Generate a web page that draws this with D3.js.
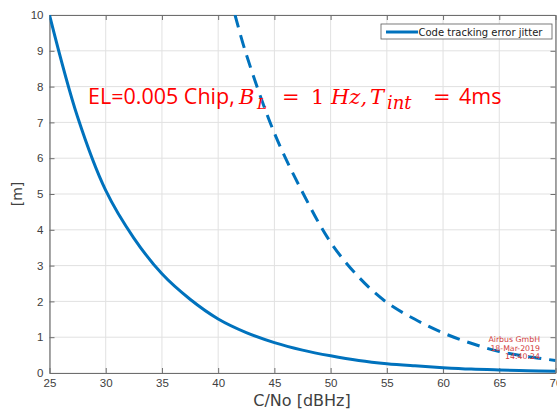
<!DOCTYPE html>
<html>
<head>
<meta charset="utf-8">
<script src="https://cdn.jsdelivr.net/npm/d3@7"></script>
<style>
  body { margin: 0; background: #fff; }
  svg { display: block; font-family: "DejaVu Sans", sans-serif; }
</style>
</head>
<body>
<div id="chart"></div>
<script>
// C/No values (dBHz) and jitter in metres
let cnoSolid = [25, 27.5, 30, 32.5, 35, 37.5, 40, 42.5, 45, 47.5, 50, 52.5, 55, 57.5, 60, 62.5, 65, 67.5, 70];
let jitterSolid = [10, 7.15, 5.1, 3.77, 2.77, 2.06, 1.51, 1.13, 0.85, 0.64, 0.48, 0.35, 0.26, 0.2, 0.15, 0.11, 0.085, 0.065, 0.05];

let cnoDashed = [41.5, 42.5, 45, 47.5, 50, 52.5, 55, 57.5, 60, 62.5, 65, 67.5, 70];
let jitterDashed = [10, 8.9, 6.7, 5.05, 3.65, 2.68, 1.97, 1.5, 1.12, 0.83, 0.6, 0.46, 0.35];

let xTicks = [25, 30, 35, 40, 45, 50, 55, 60, 65, 70];
let yTicks = [0, 1, 2, 3, 4, 5, 6, 7, 8, 9, 10];

let svgWidth = 557;
let svgHeight = 409;

let margin = { top: 15, right: 1.5, bottom: 36, left: 49.5 };
let width = svgWidth - margin.left - margin.right;
let height = svgHeight - margin.top - margin.bottom;

let lineColor = "#0072BD";
let axisColor = "#6e6e6e";
let textColor = "#404040";

let svg = d3.select("#chart")
    .append("svg")
    .attr("width", svgWidth)
    .attr("height", svgHeight);

let chartGroup = svg.append("g")
    .attr("transform", `translate(${margin.left}, ${margin.top})`);

let xScale = d3.scaleLinear().domain([25, 70]).range([0, width]);
let yScale = d3.scaleLinear().domain([0, 10]).range([height, 0]);

// grid
chartGroup.append("g")
    .selectAll("line.vgrid")
    .data(xTicks)
    .enter()
    .append("line")
    .attr("x1", d => xScale(d))
    .attr("x2", d => xScale(d))
    .attr("y1", 0)
    .attr("y2", height)
    .attr("stroke", "#e1e1e1")
    .attr("stroke-width", 1);

chartGroup.append("g")
    .selectAll("line.hgrid")
    .data(yTicks)
    .enter()
    .append("line")
    .attr("x1", 0)
    .attr("x2", width)
    .attr("y1", d => yScale(d))
    .attr("y2", d => yScale(d))
    .attr("stroke", "#e1e1e1")
    .attr("stroke-width", 1);

// axes (box style, ticks inward)
function styleAxis(g) {
    g.select(".domain").attr("stroke", axisColor).attr("stroke-width", 1.2);
    g.selectAll(".tick line").attr("stroke", axisColor);
    g.selectAll(".tick text")
        .attr("fill", textColor)
        .attr("font-size", "11.5px");
}

let bottomAxis = d3.axisBottom(xScale).tickValues(xTicks).tickSize(-5).tickSizeOuter(0).tickPadding(6);
let leftAxis = d3.axisLeft(yScale).tickValues(yTicks).tickSize(-5).tickSizeOuter(0).tickPadding(6);
let topAxis = d3.axisTop(xScale).tickValues(xTicks).tickSize(-5).tickSizeOuter(0).tickFormat("");
let rightAxis = d3.axisRight(yScale).tickValues(yTicks).tickSize(-5).tickSizeOuter(0).tickFormat("");

chartGroup.append("g").call(topAxis).call(styleAxis);
chartGroup.append("g").attr("transform", `translate(${width}, 0)`).call(rightAxis).call(styleAxis);
chartGroup.append("g").attr("transform", `translate(0, ${height})`).call(bottomAxis).call(styleAxis);
chartGroup.append("g").call(leftAxis).call(styleAxis);

// curves
chartGroup.append("clipPath")
    .attr("id", "plotClip")
    .append("rect")
    .attr("width", width)
    .attr("height", height);

let line = d3.line()
    .x(d => xScale(d[0]))
    .y(d => yScale(d[1]))
    .curve(d3.curveCatmullRom.alpha(0.5));

chartGroup.append("path")
    .datum(d3.zip(cnoSolid, jitterSolid))
    .attr("clip-path", "url(#plotClip)")
    .attr("d", line)
    .attr("fill", "none")
    .attr("stroke", lineColor)
    .attr("stroke-width", 3);

chartGroup.append("path")
    .datum(d3.zip(cnoDashed, jitterDashed))
    .attr("clip-path", "url(#plotClip)")
    .attr("d", line)
    .attr("fill", "none")
    .attr("stroke", lineColor)
    .attr("stroke-width", 3)
    .attr("stroke-dasharray", "13,8");

// axis labels
svg.append("text")
    .attr("x", 302)
    .attr("y", 406)
    .attr("text-anchor", "middle")
    .attr("fill", textColor)
    .attr("font-size", "16px")
    .text("C/No [dBHz]");

svg.append("text")
    .attr("transform", `translate(22, ${margin.top + height / 2}) rotate(-90)`)
    .attr("text-anchor", "middle")
    .attr("fill", textColor)
    .attr("font-size", "14px")
    .text("[m]");

// legend
let legend = svg.append("g").attr("transform", "translate(381, 24)");
legend.append("rect")
    .attr("width", 171)
    .attr("height", 15)
    .attr("fill", "#fff")
    .attr("stroke", "#5a5a5a")
    .attr("stroke-width", 0.8);
legend.append("line")
    .attr("x1", 5).attr("x2", 37)
    .attr("y1", 8).attr("y2", 8)
    .attr("stroke", lineColor)
    .attr("stroke-width", 3);
legend.append("text")
    .attr("x", 37.5)
    .attr("y", 11.5)
    .attr("font-size", "10px")
    .attr("fill", "#202020")
    .text("Code tracking error jitter");

// red annotation: pieces placed like the equation-editor layout
let serif = "'DejaVu Serif', serif";
let sans = "'Open Sans', sans-serif";
let noteParts = [
    { x: 88, t: "EL=0.005 Chip,", f: sans, it: false, size: 21.5, dy: 0 },
    { x: 239, t: "B", f: serif, it: true, size: 21, dy: 0 },
    { x: 257, t: "L", f: serif, it: true, size: 15, dy: 5 },
    { x: 282, t: "=", f: serif, it: false, size: 21, dy: 0 },
    { x: 311, t: "1", f: serif, it: false, size: 21, dy: 0 },
    { x: 331, t: "Hz,", f: serif, it: true, size: 21, dy: 0 },
    { x: 370, t: "T", f: serif, it: true, size: 21, dy: 0 },
    { x: 387, t: "int", f: serif, it: true, size: 18, dy: 5 },
    { x: 433, t: "=", f: serif, it: false, size: 21, dy: 0 },
    { x: 459, t: "4ms", f: sans, it: false, size: 21.5, dy: 0 }
];
svg.append("g")
    .selectAll("text")
    .data(noteParts)
    .enter()
    .append("text")
    .attr("x", d => d.x)
    .attr("y", d => 104 + d.dy)
    .attr("font-family", d => d.f)
    .attr("font-style", d => d.it ? "italic" : "normal")
    .attr("font-size", d => d.size + "px")
    .attr("fill", "#ff0000")
    .text(d => d.t);

// watermark
let stamp = ["Airbus GmbH", "18-Mar-2019", "14:40:24"];
svg.append("g")
    .selectAll("text")
    .data(stamp)
    .enter()
    .append("text")
    .attr("x", 540)
    .attr("y", (d, i) => 342 + i * 8.5)
    .attr("text-anchor", "end")
    .attr("font-size", "7.8px")
    .attr("fill", "#d23c3c")
    .text(d => d);
</script>
</body>
</html>
